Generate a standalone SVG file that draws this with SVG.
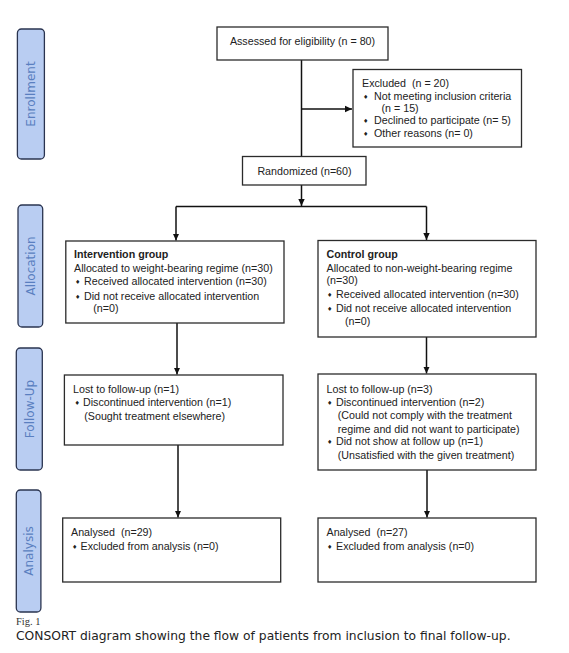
<svg xmlns="http://www.w3.org/2000/svg" width="569" height="653" viewBox="0 0 569 653">
<style>
.box{fill:#fff;stroke:#2b2b2b;stroke-width:1.3}
.lab{fill:#b9cdf2;stroke:#2a3450;stroke-width:1.3}
.lt{font-family:"DejaVu Sans",sans-serif;font-size:12px;fill:#5a7fc0;text-anchor:middle}
.t{font-family:"Liberation Sans",Arial,sans-serif;font-size:10.7px;fill:#222;white-space:pre}
.b{font-weight:bold}
.bul{font-family:"DejaVu Sans",sans-serif;font-size:6px;fill:#222}
.ln{stroke:#111;stroke-width:1.5;fill:none}
</style>
<defs>
<marker id="ah" markerWidth="8" markerHeight="8" refX="7" refY="4" orient="auto" markerUnits="userSpaceOnUse">
<path d="M0,0.8 L7,4 L0,7.2 Z" fill="#111"/>
</marker>
</defs>
<rect width="569" height="653" fill="#fff"/>

<g id="label-enrollment">
<rect class="lab" x="17.4" y="29" width="27" height="130" rx="4"/>
<text class="lt" transform="translate(35.2,94) rotate(-90)">Enrollment</text>
</g>
<g id="label-allocation">
<rect class="lab" x="18" y="205" width="24.7" height="122" rx="4"/>
<text class="lt" transform="translate(34.6,266) rotate(-90)">Allocation</text>
</g>
<g id="label-followup">
<rect class="lab" x="16.3" y="348" width="26" height="122" rx="4"/>
<text class="lt" transform="translate(33.6,409) rotate(-90)">Follow-Up</text>
</g>
<g id="label-analysis">
<rect class="lab" x="16.3" y="490" width="24.6" height="122" rx="4"/>
<text class="lt" transform="translate(32.9,551) rotate(-90)">Analysis</text>
</g>

<g id="connectors">
<line class="ln" x1="301.5" y1="60" x2="301.5" y2="156"/>
<line class="ln" x1="301.5" y1="109" x2="352" y2="109" marker-end="url(#ah)"/>
<line class="ln" x1="301.5" y1="185" x2="301.5" y2="206" marker-end="url(#ah)"/>
<line class="ln" x1="176" y1="206.5" x2="426.5" y2="206.5"/>
<line class="ln" x1="176" y1="206.5" x2="176" y2="240.5" marker-end="url(#ah)"/>
<line class="ln" x1="426.5" y1="206.5" x2="426.5" y2="240" marker-end="url(#ah)"/>
<line class="ln" x1="177" y1="323" x2="177" y2="374.5" marker-end="url(#ah)"/>
<line class="ln" x1="426.5" y1="337" x2="426.5" y2="373.5" marker-end="url(#ah)"/>
<line class="ln" x1="178" y1="445" x2="178" y2="517.5" marker-end="url(#ah)"/>
<line class="ln" x1="427" y1="470" x2="427" y2="517.5" marker-end="url(#ah)"/>
</g>

<g id="assessed">
<rect class="box" x="217" y="27" width="171" height="33"/>
<text class="t" x="302.5" y="45" text-anchor="middle">Assessed for eligibility (n = 80)</text>
</g>

<g id="excluded">
<rect class="box" x="353" y="69.5" width="168.5" height="77.5"/>
<text class="t" x="362" y="87">Excluded  (n = 20)</text>
<text class="bul" x="363" y="99">♦</text>
<text class="t" x="374" y="100">Not meeting inclusion criteria</text>
<text class="t" x="381.5" y="112">(n = 15)</text>
<text class="bul" x="363" y="123">♦</text>
<text class="t" x="374" y="124">Declined to participate (n= 5)</text>
<text class="bul" x="363" y="136">♦</text>
<text class="t" x="374" y="137">Other reasons (n= 0)</text>
</g>

<g id="randomized">
<rect class="box" x="242.5" y="156.5" width="123.5" height="28.5"/>
<text class="t" x="304.5" y="175" text-anchor="middle">Randomized (n=60)</text>
</g>

<g id="intervention">
<rect class="box" x="65.8" y="241" width="218.2" height="82"/>
<text class="t b" x="74" y="258">Intervention group</text>
<text class="t" x="74" y="272">Allocated to weight-bearing regime (n=30)</text>
<text class="bul" x="75" y="284">♦</text>
<text class="t" x="84" y="285">Received allocated intervention (n=30)</text>
<text class="bul" x="75" y="299">♦</text>
<text class="t" x="84" y="300">Did not receive allocated intervention</text>
<text class="t" x="93.3" y="312">(n=0)</text>
</g>

<g id="control">
<rect class="box" x="318" y="240.5" width="218" height="96.5"/>
<text class="t b" x="326.5" y="258">Control group</text>
<text class="t" x="326.5" y="272">Allocated to non-weight-bearing regime</text>
<text class="t" x="326.5" y="284">(n=30)</text>
<text class="bul" x="327" y="297">♦</text>
<text class="t" x="336" y="298">Received allocated intervention (n=30)</text>
<text class="bul" x="327" y="311">♦</text>
<text class="t" x="336" y="312">Did not receive allocated intervention</text>
<text class="t" x="345" y="325">(n=0)</text>
</g>

<g id="followup-left">
<rect class="box" x="64.4" y="375" width="218.6" height="70"/>
<text class="t" x="73" y="393">Lost to follow-up (n=1)</text>
<text class="bul" x="74.5" y="405">♦</text>
<text class="t" x="83" y="406">Discontinued intervention (n=1)</text>
<text class="t" x="84.3" y="420">(Sought treatment elsewhere)</text>
</g>

<g id="followup-right">
<rect class="box" x="318" y="374" width="218" height="96"/>
<text class="t" x="326.5" y="393">Lost to follow-up (n=3)</text>
<text class="bul" x="327" y="405">♦</text>
<text class="t" x="336" y="406">Discontinued intervention (n=2)</text>
<text class="t" x="337.8" y="419">(Could not comply with the treatment</text>
<text class="t" x="337.8" y="433">regime and did not want to participate)</text>
<text class="bul" x="327" y="444">♦</text>
<text class="t" x="336" y="445">Did not show at follow up (n=1)</text>
<text class="t" x="337.8" y="459">(Unsatisfied with the given treatment)</text>
</g>

<g id="analysis-left">
<rect class="box" x="62.7" y="518" width="218" height="64"/>
<text class="t" x="71" y="536">Analysed  (n=29)</text>
<text class="bul" x="72" y="549">♦</text>
<text class="t" x="80.5" y="550">Excluded from analysis (n=0)</text>
</g>

<g id="analysis-right">
<rect class="box" x="318" y="518" width="218" height="64"/>
<text class="t" x="326.5" y="536">Analysed  (n=27)</text>
<text class="bul" x="327" y="549">♦</text>
<text class="t" x="336" y="550">Excluded from analysis (n=0)</text>
</g>

<text x="16" y="625" font-family="'Liberation Serif',serif" font-size="10.5" fill="#333">Fig. 1</text>
<text x="16" y="640" font-family="'DejaVu Sans',sans-serif" font-size="12.3" fill="#222">CONSORT diagram showing the flow of patients from inclusion to final follow-up.</text>
</svg>
